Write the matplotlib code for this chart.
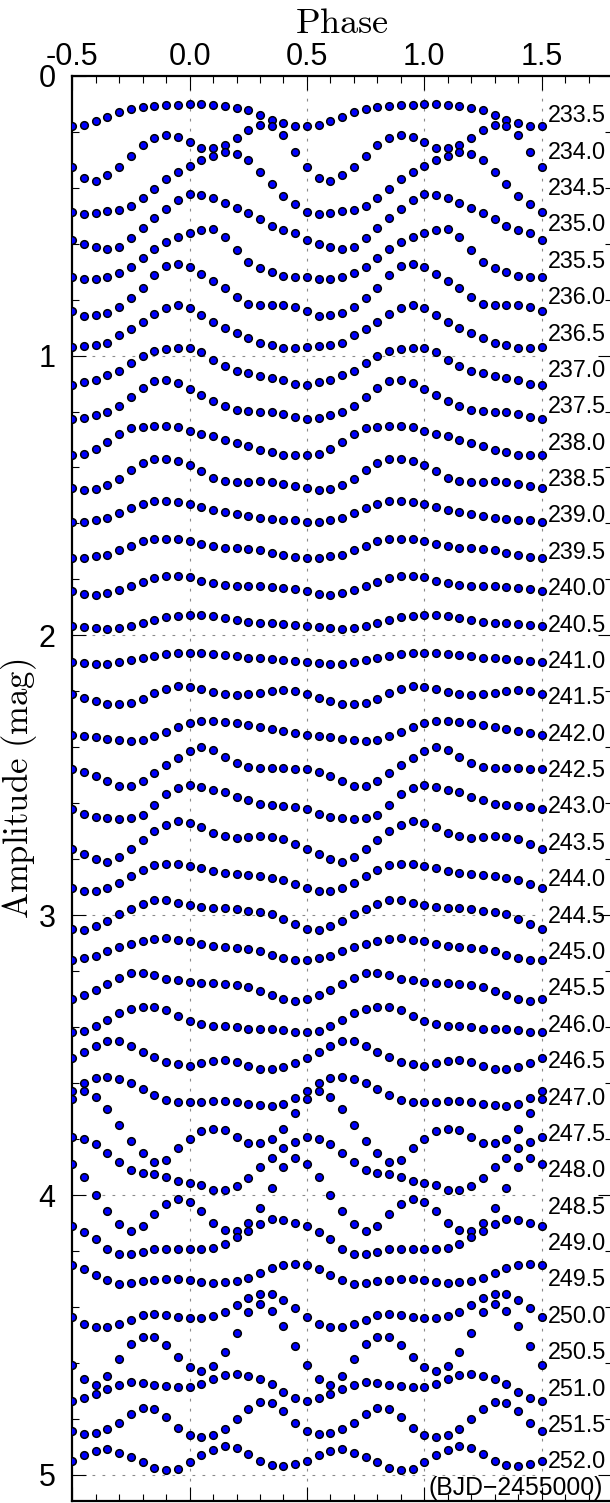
import numpy as np
import matplotlib
matplotlib.use("Agg")
import matplotlib.pyplot as plt

plt.rcParams["font.family"] = ["Liberation Sans", "DejaVu Sans"]
plt.rcParams["mathtext.fontset"] = "cm"

# phase bins of the folded light curves
phase_bins = [0.00, 0.05, 0.10, 0.15, 0.20, 0.25, 0.30, 0.35, 0.40, 0.45,
              0.50, 0.55, 0.60, 0.65, 0.70, 0.75, 0.80, 0.85, 0.90, 0.95]

# night labels (BJD - 2455000)
days = [233.5, 234.0, 234.5, 235.0, 235.5, 236.0, 236.5, 237.0, 237.5, 238.0,
        238.5, 239.0, 239.5, 240.0, 240.5, 241.0, 241.5, 242.0, 242.5, 243.0,
        243.5, 244.0, 244.5, 245.0, 245.5, 246.0, 246.5, 247.0, 247.5, 248.0,
        248.5, 249.0, 249.5, 250.0, 250.5, 251.0, 251.5, 252.0]

# binned magnitudes for each night (already shifted for display)
mag_233_5 = [0.101, 0.101, 0.105, 0.110, 0.114, 0.124, 0.139, 0.157, 0.169, 0.180,
             0.181, 0.175, 0.162, 0.146, 0.131, 0.119, 0.113, 0.108, 0.105, 0.104]
mag_234_0 = [0.238, 0.258, 0.260, 0.248, 0.224, 0.193, 0.175, 0.180, 0.212, 0.271,
             0.327, 0.366, 0.375, 0.355, 0.327, 0.286, 0.248, 0.223, 0.212, 0.220]
mag_234_5 = [0.321, 0.300, 0.286, 0.274, 0.280, 0.300, 0.345, 0.387, 0.429, 0.460,
             0.486, 0.494, 0.492, 0.485, 0.481, 0.464, 0.438, 0.405, 0.370, 0.343]
mag_235_0 = [0.423, 0.425, 0.438, 0.456, 0.474, 0.491, 0.512, 0.536, 0.550, 0.562,
             0.586, 0.601, 0.611, 0.621, 0.613, 0.579, 0.545, 0.510, 0.476, 0.444]
mag_235_5 = [0.562, 0.550, 0.549, 0.577, 0.623, 0.664, 0.688, 0.702, 0.714, 0.720,
             0.720, 0.726, 0.726, 0.719, 0.706, 0.683, 0.651, 0.619, 0.593, 0.577]
mag_236_0 = [0.685, 0.708, 0.732, 0.760, 0.792, 0.816, 0.818, 0.818, 0.819, 0.825,
             0.842, 0.857, 0.855, 0.848, 0.825, 0.795, 0.758, 0.713, 0.680, 0.673]
mag_236_5 = [0.830, 0.855, 0.881, 0.902, 0.920, 0.936, 0.954, 0.964, 0.973, 0.974,
             0.970, 0.967, 0.964, 0.956, 0.926, 0.905, 0.880, 0.852, 0.831, 0.818]
mag_237_0 = [0.974, 0.988, 1.016, 1.038, 1.055, 1.062, 1.073, 1.081, 1.089, 1.101,
             1.104, 1.095, 1.087, 1.071, 1.054, 1.026, 1.000, 0.985, 0.975, 0.973]
mag_237_5 = [1.119, 1.141, 1.164, 1.182, 1.194, 1.199, 1.200, 1.202, 1.208, 1.218,
             1.226, 1.223, 1.214, 1.202, 1.180, 1.148, 1.116, 1.092, 1.089, 1.099]
mag_238_0 = [1.268, 1.280, 1.289, 1.301, 1.313, 1.324, 1.337, 1.345, 1.354, 1.356,
             1.355, 1.350, 1.333, 1.310, 1.279, 1.260, 1.254, 1.251, 1.251, 1.257]
mag_238_5 = [1.390, 1.414, 1.437, 1.449, 1.452, 1.451, 1.450, 1.452, 1.458, 1.467,
             1.474, 1.479, 1.476, 1.464, 1.442, 1.409, 1.383, 1.371, 1.368, 1.375]
mag_239_0 = [1.531, 1.542, 1.551, 1.559, 1.567, 1.575, 1.579, 1.583, 1.586, 1.588,
             1.593, 1.595, 1.589, 1.580, 1.563, 1.546, 1.531, 1.521, 1.518, 1.523]
mag_239_5 = [1.664, 1.674, 1.681, 1.686, 1.689, 1.692, 1.695, 1.704, 1.713, 1.720,
             1.724, 1.724, 1.718, 1.711, 1.696, 1.679, 1.664, 1.657, 1.655, 1.657]
mag_240_0 = [1.793, 1.804, 1.814, 1.820, 1.823, 1.824, 1.824, 1.826, 1.829, 1.833,
             1.843, 1.852, 1.855, 1.849, 1.839, 1.824, 1.810, 1.795, 1.788, 1.789]
mag_240_5 = [1.926, 1.926, 1.931, 1.938, 1.945, 1.951, 1.954, 1.956, 1.958, 1.962,
             1.966, 1.970, 1.975, 1.976, 1.974, 1.966, 1.956, 1.945, 1.936, 1.929]
mag_241_0 = [2.062, 2.064, 2.068, 2.071, 2.075, 2.079, 2.081, 2.084, 2.088, 2.092,
             2.094, 2.099, 2.102, 2.102, 2.095, 2.087, 2.081, 2.074, 2.068, 2.064]
mag_241_5 = [2.184, 2.191, 2.201, 2.211, 2.214, 2.211, 2.206, 2.200, 2.196, 2.199,
             2.209, 2.223, 2.235, 2.244, 2.246, 2.240, 2.226, 2.207, 2.192, 2.182]
mag_242_0 = [2.313, 2.306, 2.305, 2.309, 2.314, 2.321, 2.329, 2.335, 2.342, 2.349,
             2.355, 2.358, 2.362, 2.370, 2.375, 2.377, 2.373, 2.361, 2.345, 2.326]
mag_242_5 = [2.414, 2.400, 2.408, 2.433, 2.457, 2.469, 2.474, 2.473, 2.473, 2.476,
             2.477, 2.487, 2.501, 2.521, 2.537, 2.537, 2.519, 2.492, 2.462, 2.438]
mag_243_0 = [2.536, 2.542, 2.552, 2.561, 2.576, 2.589, 2.601, 2.607, 2.611, 2.613,
             2.620, 2.637, 2.650, 2.654, 2.656, 2.654, 2.642, 2.605, 2.568, 2.545]
mag_243_5 = [2.670, 2.685, 2.705, 2.716, 2.723, 2.721, 2.718, 2.720, 2.726, 2.744,
             2.762, 2.782, 2.800, 2.810, 2.792, 2.763, 2.730, 2.698, 2.677, 2.664]
mag_244_0 = [2.824, 2.831, 2.843, 2.848, 2.851, 2.855, 2.858, 2.867, 2.875, 2.888,
             2.904, 2.913, 2.913, 2.904, 2.886, 2.860, 2.839, 2.821, 2.816, 2.817]
mag_244_5 = [2.962, 2.970, 2.974, 2.974, 2.979, 2.983, 2.987, 2.995, 3.012, 3.033,
             3.050, 3.051, 3.039, 3.020, 2.996, 2.977, 2.960, 2.945, 2.944, 2.956]
mag_245_0 = [3.093, 3.101, 3.110, 3.114, 3.117, 3.120, 3.126, 3.143, 3.154, 3.160,
             3.160, 3.154, 3.144, 3.127, 3.113, 3.101, 3.091, 3.085, 3.083, 3.087]
mag_245_5 = [3.238, 3.241, 3.243, 3.245, 3.249, 3.256, 3.270, 3.286, 3.300, 3.305,
             3.298, 3.286, 3.266, 3.245, 3.224, 3.208, 3.205, 3.214, 3.226, 3.232]
mag_246_0 = [3.379, 3.390, 3.395, 3.395, 3.399, 3.405, 3.407, 3.408, 3.411, 3.417,
             3.418, 3.412, 3.394, 3.373, 3.351, 3.336, 3.327, 3.327, 3.339, 3.360]
mag_246_5 = [3.537, 3.527, 3.519, 3.518, 3.524, 3.537, 3.549, 3.550, 3.542, 3.527,
             3.509, 3.488, 3.466, 3.449, 3.451, 3.466, 3.488, 3.507, 3.523, 3.532]
mag_247_0 = [3.666, 3.667, 3.664, 3.664, 3.667, 3.673, 3.679, 3.682, 3.673, 3.652,
             3.627, 3.598, 3.580, 3.577, 3.584, 3.601, 3.621, 3.644, 3.660, 3.666]
mag_247_5 = [3.798, 3.770, 3.762, 3.768, 3.794, 3.812, 3.813, 3.798, 3.762, 3.708,
             3.657, 3.627, 3.649, 3.693, 3.748, 3.806, 3.851, 3.881, 3.875, 3.833]
mag_248_0 = [3.955, 3.964, 3.980, 3.982, 3.967, 3.938, 3.898, 3.867, 3.831, 3.810,
             3.792, 3.798, 3.819, 3.849, 3.883, 3.912, 3.920, 3.924, 3.937, 3.948]
mag_248_5 = [4.024, 4.057, 4.101, 4.125, 4.127, 4.098, 4.045, 3.973, 3.901, 3.866,
             3.890, 3.937, 3.998, 4.056, 4.104, 4.127, 4.110, 4.066, 4.030, 4.014]
mag_249_0 = [4.194, 4.194, 4.188, 4.173, 4.151, 4.127, 4.104, 4.087, 4.089, 4.101,
             4.110, 4.133, 4.158, 4.194, 4.212, 4.212, 4.202, 4.194, 4.194, 4.194]
mag_249_5 = [4.304, 4.310, 4.313, 4.311, 4.306, 4.295, 4.279, 4.260, 4.250, 4.245,
             4.250, 4.264, 4.285, 4.305, 4.316, 4.313, 4.307, 4.302, 4.301, 4.301]
mag_250_0 = [4.440, 4.440, 4.433, 4.417, 4.392, 4.369, 4.355, 4.355, 4.373, 4.405,
             4.436, 4.460, 4.473, 4.473, 4.461, 4.448, 4.430, 4.424, 4.429, 4.436]
mag_250_5 = [4.613, 4.627, 4.612, 4.561, 4.493, 4.418, 4.390, 4.414, 4.468, 4.538,
             4.606, 4.657, 4.680, 4.645, 4.586, 4.531, 4.508, 4.507, 4.537, 4.580]
mag_251_0 = [4.685, 4.674, 4.656, 4.643, 4.639, 4.648, 4.657, 4.676, 4.702, 4.726,
             4.736, 4.726, 4.712, 4.694, 4.679, 4.669, 4.673, 4.679, 4.682, 4.685]
mag_251_5 = [4.857, 4.866, 4.857, 4.837, 4.801, 4.763, 4.739, 4.744, 4.771, 4.816,
             4.844, 4.855, 4.851, 4.837, 4.816, 4.783, 4.760, 4.766, 4.794, 4.833]
mag_252_0 = [4.955, 4.930, 4.911, 4.898, 4.904, 4.924, 4.949, 4.964, 4.968, 4.962,
             4.949, 4.930, 4.914, 4.908, 4.920, 4.937, 4.952, 4.974, 4.983, 4.979]

curves = [mag_233_5, mag_234_0, mag_234_5, mag_235_0, mag_235_5, mag_236_0,
          mag_236_5, mag_237_0, mag_237_5, mag_238_0, mag_238_5, mag_239_0,
          mag_239_5, mag_240_0, mag_240_5, mag_241_0, mag_241_5, mag_242_0,
          mag_242_5, mag_243_0, mag_243_5, mag_244_0, mag_244_5, mag_245_0,
          mag_245_5, mag_246_0, mag_246_5, mag_247_0, mag_247_5, mag_248_0,
          mag_248_5, mag_249_0, mag_249_5, mag_250_0, mag_250_5, mag_251_0,
          mag_251_5, mag_252_0]

W, H = 610, 1503
fig = plt.figure(figsize=(W / 100, H / 100), dpi=100)
ax_l, ax_r, ax_t, ax_b = 72.3, 612.0, 75.7, 1501.0
ax = fig.add_axes([ax_l / W, (H - ax_b) / H, (ax_r - ax_l) / W, (ax_b - ax_t) / H])
ax.set_xlim(-0.5, 1.8)
ax.set_ylim(5.093, 0.0)

# dashed guide lines
grid_kw = dict(color="#8a8a8a", lw=0.8, ls=(0, (2.5, 6.5)), zorder=0)
for xv in [0.0, 0.5, 1.0, 1.5]:
    ax.axvline(xv, **grid_kw)
for yv in [1, 2, 3, 4, 5]:
    ax.hlines(yv, -0.5, 1.5, **grid_kw)

# fold each night over phases -0.5 .. 1.5
ph = np.asarray(phase_bins)
for mags in curves:
    m = np.asarray(mags)
    xs, ys = [], []
    for shift in (-1.0, 0.0, 1.0):
        x = ph + shift
        keep = (x >= -0.5 - 1e-9) & (x <= 1.5 + 1e-9)
        xs.append(x[keep])
        ys.append(m[keep])
    xs = np.concatenate(xs)
    ys = np.concatenate(ys)
    order = np.argsort(xs)
    ax.plot(xs[order], ys[order], ls="none", marker="o", ms=5.5,
            mfc="#0000ff", mec="black", mew=1.1, zorder=3)

# night labels on the right
for i, d in enumerate(days):
    ax.text(1.526, 0.143 + 0.13 * i, f"{d:.1f}", ha="left", va="center",
            fontsize=16.8, color="black", zorder=4)

ax.text(1.762, 5.045, "(BJD\u22122455000)", ha="right", va="center",
        fontsize=17.8, zorder=4)

# axes styling
ax.xaxis.set_major_locator(matplotlib.ticker.MultipleLocator(0.5))
ax.xaxis.set_minor_locator(matplotlib.ticker.MultipleLocator(0.1))
ax.yaxis.set_major_locator(matplotlib.ticker.MultipleLocator(1.0))
ax.yaxis.set_minor_locator(matplotlib.ticker.MultipleLocator(0.2))
ax.xaxis.set_major_formatter(matplotlib.ticker.FormatStrFormatter("%.1f"))
ax.yaxis.set_major_formatter(matplotlib.ticker.FormatStrFormatter("%d"))
ax.tick_params(which="both", direction="in", top=True, bottom=True,
               left=True, right=True, labeltop=True, labelbottom=False,
               width=0.8, colors="black")
ax.tick_params(which="major", length=10)
ax.tick_params(which="minor", length=5)
ax.tick_params(axis="x", which="major", labelsize=22, pad=3)
ax.tick_params(axis="y", which="major", labelsize=22, pad=12)
for s in ax.spines.values():
    s.set_linewidth(1.6)

ax.xaxis.set_label_position("top")
ax.set_xlabel(r"$\mathrm{Phase}$", fontsize=26, labelpad=6)
ax.set_ylabel(r"$\mathrm{Amplitude\ (mag)}$", fontsize=25)
ax.yaxis.set_label_coords(-0.062, 0.5)

fig.savefig("out.png", dpi=100)
